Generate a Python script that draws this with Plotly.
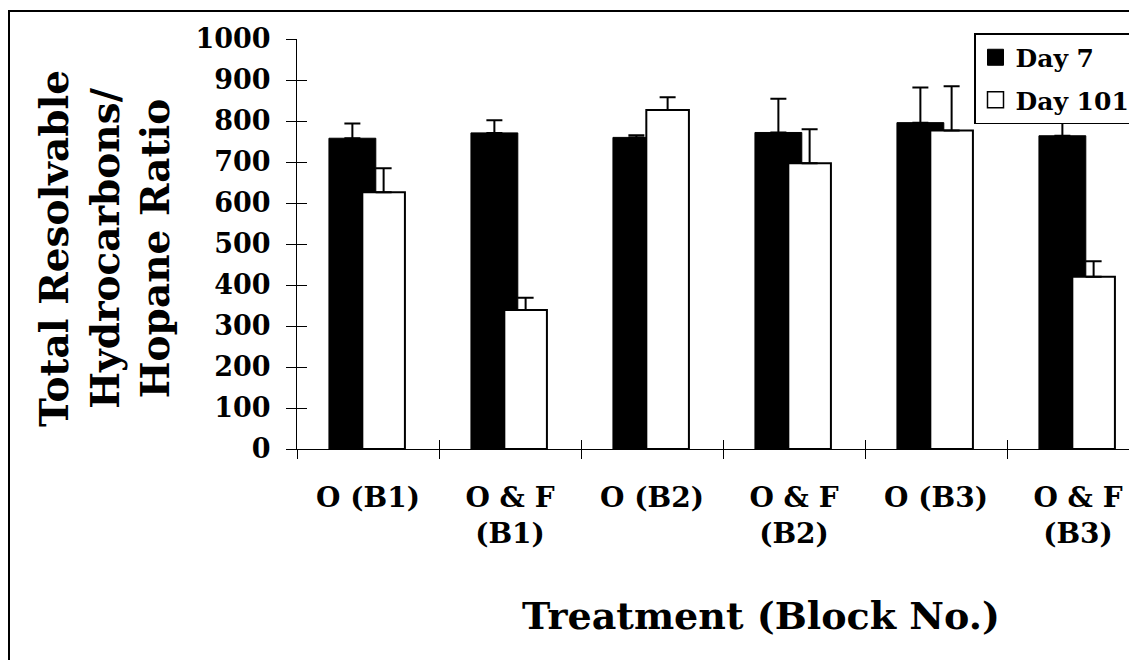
import plotly.graph_objects as go

categories = ["O (B1)", "O &amp; F<br>(B1)", "O (B2)", "O &amp; F<br>(B2)", "O (B3)", "O &amp; F<br>(B3)"]
day7 = [758, 771, 760, 772, 796, 764]
day7_err = [36, 31, 5, 82, 86, 35]
day101 = [626, 339, 827, 697, 777, 420]
day101_err = [59, 30, 31, 83, 108, 38]
y_ticks = [0, 100, 200, 300, 400, 500, 600, 700, 800, 900, 1000]

FONT = "DejaVu Serif"
PAGE_OFF = 8  # default body margin of the html page
W, H = 1137 - PAGE_OFF, 660 - PAGE_OFF
L, T = 297 - PAGE_OFF, 39 - PAGE_OFF
R = 0
B = H - (449 - PAGE_OFF)
pw, ph = W - L - R, H - T - B
XR = [-0.5, -0.5 + pw / 142.0]


def px(x):
    # page pixel -> paper fraction
    return (x - PAGE_OFF - L) / pw


def py(y):
    return (H - B - (y - PAGE_OFF)) / ph


fig = go.Figure()
fig.add_trace(go.Bar(
    x=categories, y=day7, name="Day 7", showlegend=False,
    offset=-0.275, width=0.33,
    marker=dict(color="black", line=dict(color="black", width=1)),
    error_y=dict(type="data", array=day7_err, arrayminus=[0] * len(day7_err),
                 symmetric=False, color="black", thickness=2, width=8),
))
fig.add_trace(go.Bar(
    x=categories, y=day101, name="Day 101", showlegend=False,
    offset=-0.04, width=0.30,
    marker=dict(color="white", line=dict(color="black", width=2)),
    error_y=dict(type="data", array=day101_err, arrayminus=[0] * len(day101_err),
                 symmetric=False, color="black", thickness=2, width=8),
))
# legend entries
fig.add_trace(go.Scatter(x=[None], y=[None], mode="markers", name="Day 7",
                         legendgroup="a",
                         marker=dict(symbol="square", size=16, color="black",
                                     line=dict(color="black", width=1))))
fig.add_trace(go.Scatter(x=[None], y=[None], mode="markers", name="Day 101",
                         legendgroup="b",
                         marker=dict(symbol="square", size=16, color="white",
                                     line=dict(color="black", width=1.5))))
# helper trace for the inner tick marks
fig.add_trace(go.Scatter(x=[None], y=[None], xaxis="x2", yaxis="y2",
                         showlegend=False, hoverinfo="skip"))

fig.update_layout(
    width=W, height=H,
    margin=dict(l=L, r=R, t=T, b=B),
    paper_bgcolor="white", plot_bgcolor="white",
    font=dict(family=FONT, color="black"),
    barmode="overlay",
    xaxis=dict(
        type="category", range=XR, showgrid=False, zeroline=False,
        showline=True, linecolor="black", linewidth=1,
        ticks="outside", ticklen=9, tickwidth=1, tickcolor="black",
        tickson="boundaries", ticklabelstandoff=23,
        tickfont=dict(family=FONT, size=28, color="black", weight="bold"),
    ),
    yaxis=dict(
        range=[0, 1000], tickvals=y_ticks, showgrid=False, zeroline=False,
        showline=True, linecolor="black", linewidth=1,
        ticks="outside", ticklen=10, tickwidth=1, tickcolor="black",
        ticklabelstandoff=10,
        tickfont=dict(family=FONT, size=27, color="black", weight="bold"),
    ),
    xaxis2=dict(
        overlaying="x", anchor="y2", range=XR,
        tickvals=[i - 0.5 for i in range(len(categories) + 1)],
        showticklabels=False, showgrid=False, zeroline=False, showline=False,
        ticks="inside", ticklen=9, tickwidth=1, tickcolor="black",
    ),
    yaxis2=dict(
        overlaying="y", anchor="x2", side="left", range=[0, 1000],
        tickvals=y_ticks, showticklabels=False, showgrid=False,
        zeroline=False, showline=False,
        ticks="inside", ticklen=10, tickwidth=1, tickcolor="black",
    ),
    legend=dict(
        x=px(974), y=py(33), xanchor="left", yanchor="top",
        bgcolor="white", bordercolor="black", borderwidth=1.5,
        font=dict(family=FONT, size=25, color="black", weight="bold"),
        traceorder="grouped", tracegroupgap=7,
    ),
    annotations=[
        dict(text="Total Resolvable<br>Hydrocarbons/<br>Hopane Ratio",
             textangle=-90, xref="paper", yref="paper",
             x=px(104), y=py(249), xanchor="center", yanchor="middle",
             showarrow=False,
             font=dict(family=FONT, size=39, color="black", weight="bold")),
        dict(text="Treatment (Block No.)", xref="paper", yref="paper",
             x=px(761), y=py(615), xanchor="center", yanchor="middle",
             showarrow=False,
             font=dict(family=FONT, size=38, color="black", weight="bold")),
    ],
    shapes=[
        dict(type="line", xref="paper", yref="paper",
             x0=px(9), x1=px(9), y0=py(11), y1=py(700),
             line=dict(color="black", width=2)),
        dict(type="line", xref="paper", yref="paper",
             x0=px(8), x1=px(1200), y0=py(11), y1=py(11),
             line=dict(color="black", width=2)),
    ],
)

fig.write_html("out.html")
